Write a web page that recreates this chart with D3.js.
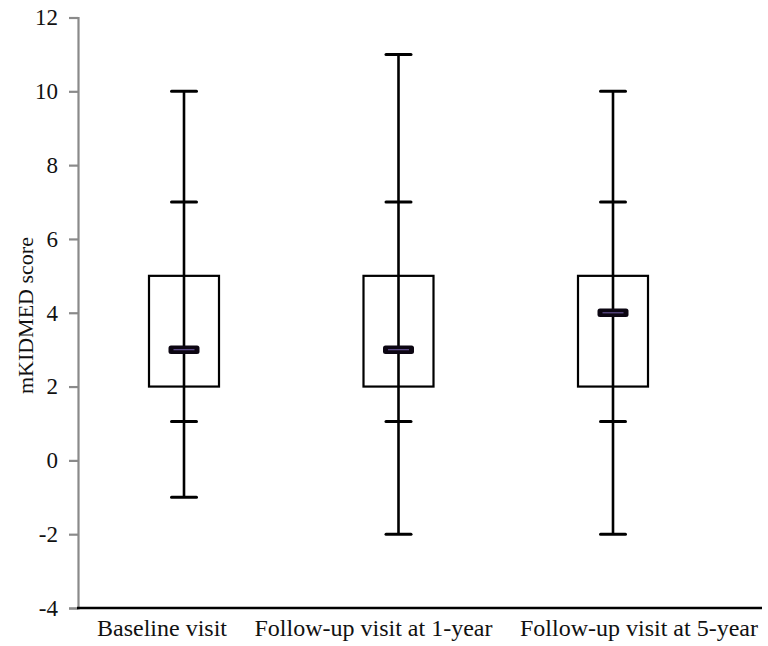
<!DOCTYPE html>
<html>
<head>
<meta charset="utf-8">
<script src="https://cdn.jsdelivr.net/npm/d3@7"></script>
<style>
  html, body { margin: 0; padding: 0; background: #fff; }
  svg { display: block; }
</style>
</head>
<body>
<svg id="chart" width="768" height="646"></svg>
<script>
// ---- data ----
const categories = ["Baseline visit", "Follow-up visit at 1-year", "Follow-up visit at 5-year"];
const whiskerMax = [10, 11, 10];
const upperMark  = [7, 7, 7];
const q3         = [5, 5, 5];
const median     = [3, 3, 4];
const q1         = [2, 2, 2];
const lowerMark  = [1.05, 1.05, 1.05];
const whiskerMin = [-1, -2, -2];
const yTicks = [-4, -2, 0, 2, 4, 6, 8, 10, 12];
const yTitle = "mKIDMED score";

// ---- layout ----
const FONT = "Liberation Serif, DejaVu Serif, Times New Roman, serif";
const svg = d3.select("#chart");
const plotLeft = 78, plotRight = 762, plotTop = 17.5, plotBottom = 608;
const labelShift = [-22, -25, 26];

const y = d3.scaleLinear().domain([-4, 12]).range([plotBottom, plotTop]);
const x = d3.scalePoint().domain(categories).range([184, 613]);

// y axis
const yAxis = d3.axisLeft(y).tickValues(yTicks).tickSize(9).tickPadding(11)
  .tickFormat(d => String(d));
const gy = svg.append("g").attr("transform", `translate(${plotLeft},0)`).call(yAxis)
  .attr("font-family", FONT).attr("font-size", 23);
gy.select(".domain").attr("stroke", "#8a8a8a").attr("stroke-width", 2.2);
gy.selectAll(".tick line").attr("stroke", "#8a8a8a").attr("stroke-width", 2.2);
gy.selectAll(".tick text").attr("fill", "#111");

// x axis line
svg.append("line").attr("x1", plotLeft - 1).attr("x2", plotRight).attr("y1", y(-4)).attr("y2", y(-4))
  .attr("stroke", "#000").attr("stroke-width", 2.6);

// x labels
svg.selectAll(".xlab").data(categories).enter().append("text")
  .attr("class", "xlab")
  .attr("x", (d, i) => x(d) + labelShift[i])
  .attr("y", 636)
  .attr("text-anchor", "middle")
  .attr("font-family", FONT)
  .attr("font-size", 24)
  .attr("fill", "#111")
  .text(d => d);

// y title
svg.append("text")
  .attr("transform", "translate(33,315.6) rotate(-90)")
  .attr("text-anchor", "middle")
  .attr("font-family", FONT)
  .attr("font-size", 22)
  .attr("fill", "#111")
  .text(yTitle);

// boxes
const boxW = 70, capW = 25, medW = 31, medH = 8.5;
const g = svg.selectAll(".box").data(categories).enter().append("g").attr("class", "box");

g.append("line")
  .attr("x1", d => x(d)).attr("x2", d => x(d))
  .attr("y1", (d, i) => y(whiskerMax[i])).attr("y2", (d, i) => y(whiskerMin[i]))
  .attr("stroke", "#000").attr("stroke-width", 2.6);

g.append("rect")
  .attr("x", d => x(d) - boxW / 2).attr("width", boxW)
  .attr("y", (d, i) => y(q3[i])).attr("height", (d, i) => y(q1[i]) - y(q3[i]))
  .attr("fill", "none").attr("stroke", "#000").attr("stroke-width", 2.2);

const caps = [whiskerMax, upperMark, lowerMark, whiskerMin];
caps.forEach(arr => {
  g.append("line")
    .attr("x1", d => x(d) - capW / 2).attr("x2", d => x(d) + capW / 2)
    .attr("y1", (d, i) => y(arr[i])).attr("y2", (d, i) => y(arr[i]))
    .attr("stroke", "#000").attr("stroke-width", 3).attr("stroke-linecap", "round");
});

g.append("rect")
  .attr("x", d => x(d) - medW / 2).attr("width", medW)
  .attr("y", (d, i) => y(median[i]) - medH / 2).attr("height", medH)
  .attr("rx", 2.5).attr("fill", "#0c0612");
g.append("line")
  .attr("x1", d => x(d) - medW / 2 + 5).attr("x2", d => x(d) + medW / 2 - 5)
  .attr("y1", (d, i) => y(median[i])).attr("y2", (d, i) => y(median[i]))
  .attr("stroke", "#5b4a86").attr("stroke-width", 1.3);
</script>
</body>
</html>
